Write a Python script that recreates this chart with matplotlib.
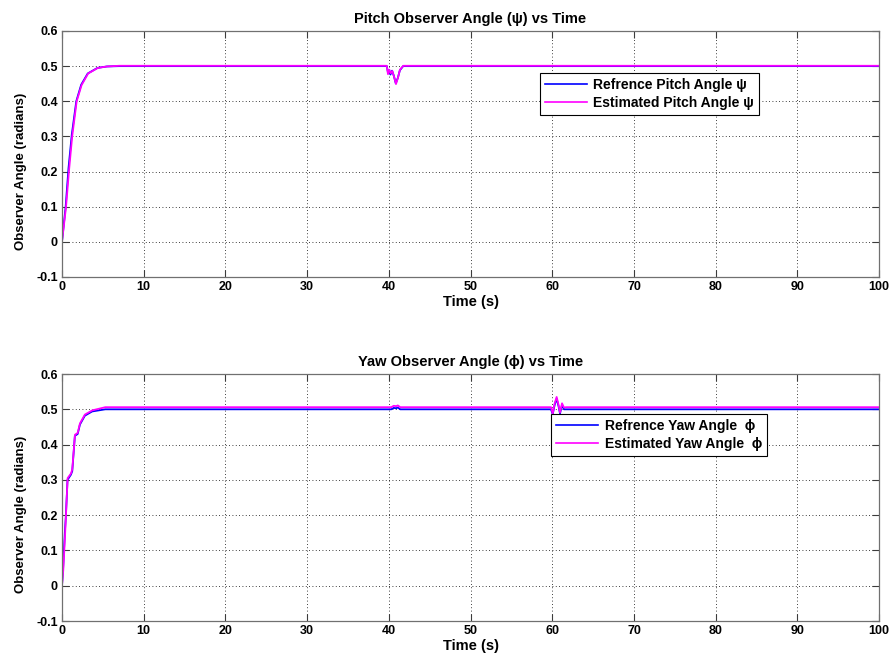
import matplotlib
matplotlib.use("Agg")
import matplotlib.pyplot as plt

plt.rcParams['font.family'] = ['Liberation Sans', 'DejaVu Sans']
plt.rcParams['font.weight'] = 'bold'

# Pitch channel (time in s, angle in rad)
pitch_ref_t = [0, 0.45, 0.8, 1.2, 1.75, 2.35, 3.15, 4.35, 5.5, 7.0, 39.75, 39.9, 40.05, 40.2, 40.4,
               40.62, 40.85, 41.1, 41.35, 41.75, 100]
pitch_ref = [0, 0.10, 0.21, 0.305, 0.40, 0.447, 0.479, 0.495, 0.499, 0.5, 0.5, 0.482, 0.488, 0.476, 0.487,
             0.472, 0.451, 0.466, 0.488, 0.5, 0.5]
pitch_est_t = [0, 0.5, 0.85, 1.25, 1.8, 2.4, 3.2, 4.4, 5.5, 7.0, 39.74, 39.9, 40.06, 40.23, 40.43,
               40.64, 40.88, 41.13, 41.37, 41.78, 100]
pitch_est = [0, 0.10, 0.20, 0.30, 0.40, 0.446, 0.479, 0.495, 0.499, 0.501, 0.501, 0.477, 0.49, 0.48, 0.486,
             0.47, 0.449, 0.468, 0.49, 0.501, 0.501]

# Yaw channel (time in s, angle in rad)
yaw_ref_t = [0, 0.14, 0.35, 0.48, 0.68, 1.1, 1.26, 1.58, 1.92, 2.2, 2.8, 3.7, 5.3, 40.3, 40.6, 40.9, 41.1,
             41.4, 59.85, 60.06, 60.3, 60.54, 60.78, 60.95, 61.2, 61.44, 61.7, 100]
yaw_ref = [0, 0.05, 0.15, 0.2, 0.30, 0.315, 0.325, 0.425, 0.43, 0.457, 0.482, 0.494, 0.5, 0.5, 0.504, 0.503,
           0.505, 0.5, 0.5, 0.486, 0.513, 0.53, 0.508, 0.488, 0.512, 0.5, 0.5, 0.5]
yaw_est_t = [0, 0.16, 0.37, 0.49, 0.69, 1.1, 1.26, 1.59, 1.92, 2.2, 2.8, 3.7, 5.3, 40.3, 40.6, 40.9, 41.1,
             41.4, 59.85, 60.06, 60.3, 60.54, 60.78, 60.95, 61.2, 61.44, 61.7, 100]
yaw_est = [0, 0.045, 0.14, 0.2, 0.305, 0.318, 0.33, 0.428, 0.433, 0.46, 0.485, 0.497, 0.506, 0.506, 0.51,
           0.509, 0.511, 0.506, 0.506, 0.488, 0.517, 0.535, 0.512, 0.491, 0.517, 0.505, 0.506, 0.506]

x_ticks = list(range(0, 101, 10))
y_ticks = [-0.1, 0, 0.1, 0.2, 0.3, 0.4, 0.5, 0.6]
y_tick_labels = ['-0.1', '0', '0.1', '0.2', '0.3', '0.4', '0.5', '0.6']

BLUE = '#0000ff'
MAGENTA = '#ff00ff'

fig = plt.figure(figsize=(8.93, 6.62), dpi=100)
ax1 = fig.add_axes([0.0694, 0.5816, 0.915, 0.3716])
ax2 = fig.add_axes([0.0694, 0.0619, 0.915, 0.3731])

panels = [
    (ax1, pitch_ref_t, pitch_ref, pitch_est_t, pitch_est,
     'Pitch Observer Angle (\u03c8) vs Time',
     'Refrence Pitch Angle \u03c8', 'Estimated Pitch Angle \u03c8', (0.585, 0.829)),
    (ax2, yaw_ref_t, yaw_ref, yaw_est_t, yaw_est,
     'Yaw Observer Angle (\u03d5) vs Time',
     'Refrence Yaw Angle  \u03d5', 'Estimated Yaw Angle  \u03d5', (0.599, 0.838)),
]

for ax, rt, rv, et, ev, title, lab_r, lab_e, anchor in panels:
    ax.plot(rt, rv, color=BLUE, lw=1.3, label=lab_r)
    ax.plot(et, ev, color=MAGENTA, lw=1.3, label=lab_e)
    ax.set_xlim(0, 100)
    ax.set_ylim(-0.1, 0.6)
    ax.set_xticks(x_ticks)
    ax.set_xticklabels([str(v) for v in x_ticks])
    ax.set_yticks(y_ticks)
    ax.set_yticklabels(y_tick_labels)
    ax.tick_params(direction='in', length=5, width=0.8, colors='#3c3c3c',
                   labelcolor='black', labelsize=9, top=True, right=True, pad=3)
    for lbl in ax.get_xticklabels() + ax.get_yticklabels():
        lbl.set_fontweight('bold')
    ax.grid(True, color='black', linestyle=(0, (1, 3)), linewidth=0.6)
    for sp in ax.spines.values():
        sp.set_color('#707070')
        sp.set_linewidth(0.9)
    ax.set_title(title, fontsize=10.5, fontweight='bold', pad=6)
    ax.set_xlabel('Time (s)', fontsize=10.5, fontweight='bold', labelpad=1)
    ax.set_ylabel('Observer Angle (radians)', fontsize=9.5, fontweight='bold')
    ax.yaxis.set_label_coords(-0.043, 0.43)
    leg = ax.legend(loc='upper left', bbox_to_anchor=anchor, borderaxespad=0,
                    frameon=True, fancybox=False, edgecolor='black', framealpha=1,
                    prop={'weight': 'bold', 'size': 10}, handlelength=3.0,
                    handletextpad=0.5, borderpad=0.35, labelspacing=0.3)
    leg.get_frame().set_linewidth(0.8)
    for h in leg.get_lines():
        h.set_linewidth(1.2)

fig.savefig('out.png', dpi=100)
